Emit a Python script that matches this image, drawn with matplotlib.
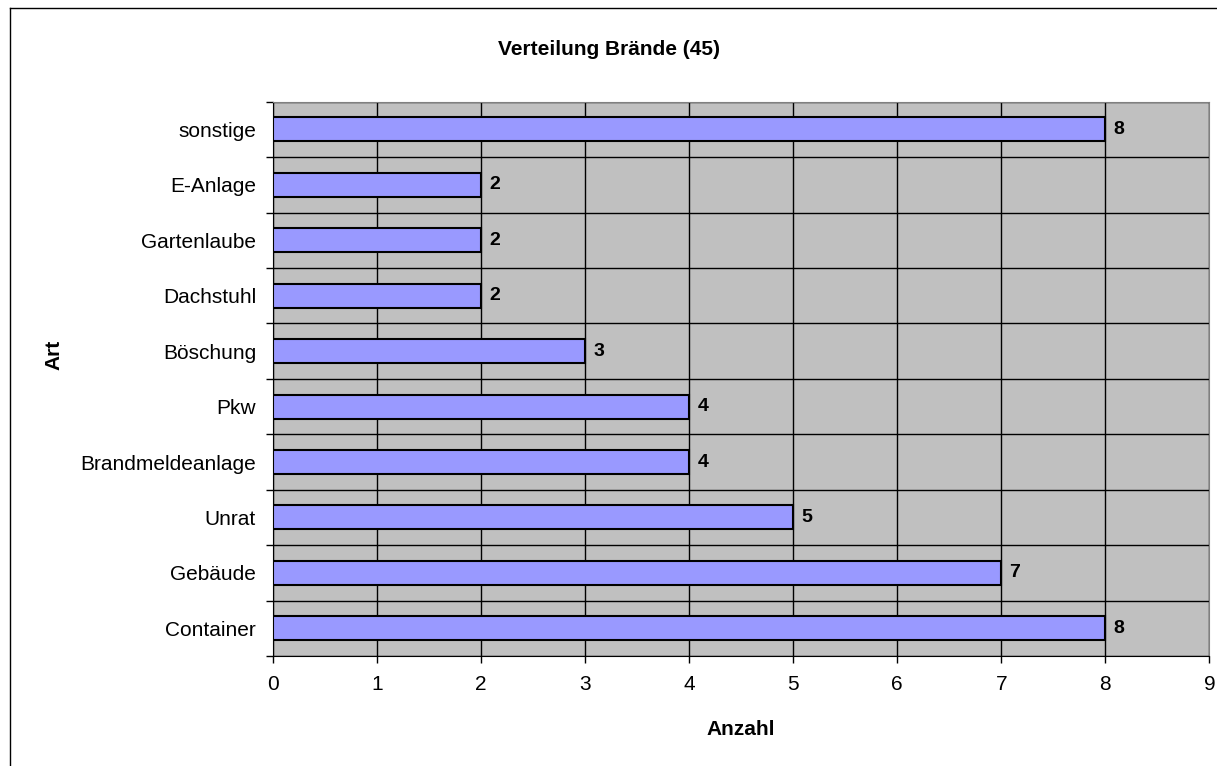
import numpy as np
import matplotlib.pyplot as plt
from matplotlib.lines import Line2D

# Daten
kategorien = ["Container", "Gebäude", "Unrat", "Brandmeldeanlage", "Pkw",
              "Böschung", "Dachstuhl", "Gartenlaube", "E-Anlage", "sonstige"]
anzahl = [8, 7, 5, 4, 4, 3, 2, 2, 2, 8]
x_ticks = [0, 1, 2, 3, 4, 5, 6, 7, 8, 9]

plt.rcParams['font.family'] = ['Liberation Sans', 'DejaVu Sans']

fig = plt.figure(figsize=(12.17, 7.66), dpi=100)
ax = fig.add_axes([0.2241, 0.1436, 0.7696, 0.7236])
ax.set_facecolor('#C0C0C0')

pos = np.arange(len(kategorien))
ax.barh(pos, anzahl, height=0.435, color='#9999FF', edgecolor='black',
        linewidth=1.5, zorder=3)

for p, v in zip(pos, anzahl):
    ax.text(v + 0.08, p, str(v), va='center', ha='left',
            fontsize=14, fontweight='bold', zorder=4)

ax.set_xlim(0, 9)
ax.set_ylim(-0.5, len(kategorien) - 0.5)
ax.set_xticks(x_ticks)
ax.set_xticklabels([str(t) for t in x_ticks], fontsize=15)

# Kategorien-Grenzen als Haupt-Ticks, Beschriftung in der Mitte
ax.set_yticks(np.arange(len(kategorien) + 1) - 0.5)
ax.set_yticklabels([])
ax.set_yticks(pos, minor=True)
ax.set_yticklabels(kategorien, minor=True, fontsize=15)
ax.tick_params(axis='y', which='minor', length=0, pad=12)
ax.tick_params(axis='y', which='major', length=5, width=1, direction='out')
ax.tick_params(axis='x', length=5, width=1, direction='out', pad=9)

ax.grid(True, which='major', color='black', linewidth=1, zorder=1)
ax.set_axisbelow(True)
for s in ['top', 'right']:
    ax.spines[s].set_color('#808080')
for s in ['left', 'bottom']:
    ax.spines[s].set_color('black')

fig.text(0.5, 0.936, "Verteilung Brände (45)", ha='center', va='center',
         fontsize=15, fontweight='bold')
fig.text(0.609, 0.047, "Anzahl", ha='center', va='center',
         fontsize=15, fontweight='bold')
fig.text(0.044, 0.537, "Art", ha='center', va='center', rotation=90,
         fontsize=15, fontweight='bold')

# Rahmen (links und oben sichtbar)
fig.add_artist(Line2D([0.0082, 0.0082], [0, 0.9896], color='black', lw=1,
                      transform=fig.transFigure))
fig.add_artist(Line2D([0.0082, 1], [0.9896, 0.9896], color='black', lw=1,
                      transform=fig.transFigure))

fig.savefig('out.png', dpi=100)
